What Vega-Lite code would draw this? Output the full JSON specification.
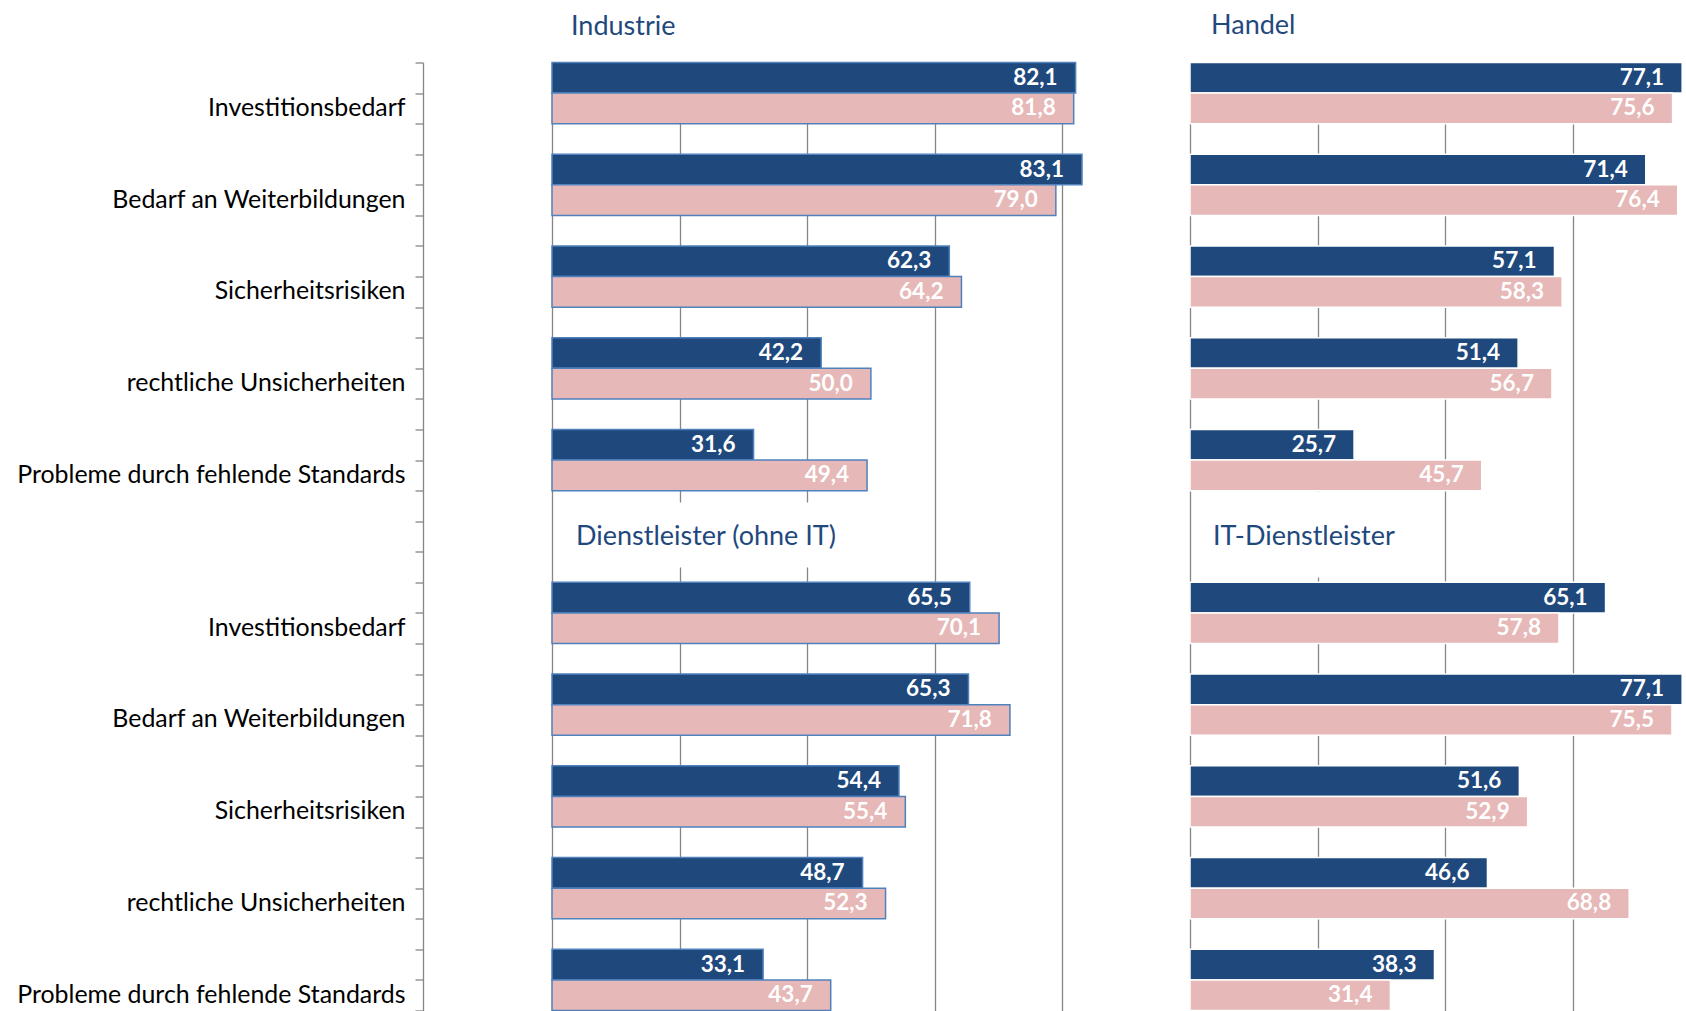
{
  "$schema": "https://vega.github.io/schema/vega-lite/v6.json",
  "background": "white",
  "padding": {"left": 16, "top": 11.5, "right": 0, "bottom": 0},
  "spacing": 63,
  "config": {
    "locale": {"number": {"decimal": ",", "thousands": ".", "grouping": [3], "currency": ["", " €"]}},
    "view": {"stroke": null},
    "font": "Lato",
    "title": {"font": "Lato", "fontSize": 27, "fontWeight": "normal", "color": "#1F497D", "anchor": "start", "frame": "group", "baseline": "alphabetic"}
  },
  "datasets": {
    "werte": [
      {"sektor": "Industrie", "kategorie": "Investitionsbedarf", "reihe": "Reihe 1", "wert": 82.1, "slot": "1|Investitionsbedarf|a"},
      {"sektor": "Industrie", "kategorie": "Investitionsbedarf", "reihe": "Reihe 2", "wert": 81.8, "slot": "1|Investitionsbedarf|b"},
      {"sektor": "Industrie", "kategorie": "Bedarf an Weiterbildungen", "reihe": "Reihe 1", "wert": 83.1, "slot": "1|Bedarf an Weiterbildungen|a"},
      {"sektor": "Industrie", "kategorie": "Bedarf an Weiterbildungen", "reihe": "Reihe 2", "wert": 79.0, "slot": "1|Bedarf an Weiterbildungen|b"},
      {"sektor": "Industrie", "kategorie": "Sicherheitsrisiken", "reihe": "Reihe 1", "wert": 62.3, "slot": "1|Sicherheitsrisiken|a"},
      {"sektor": "Industrie", "kategorie": "Sicherheitsrisiken", "reihe": "Reihe 2", "wert": 64.2, "slot": "1|Sicherheitsrisiken|b"},
      {"sektor": "Industrie", "kategorie": "rechtliche Unsicherheiten", "reihe": "Reihe 1", "wert": 42.2, "slot": "1|rechtliche Unsicherheiten|a"},
      {"sektor": "Industrie", "kategorie": "rechtliche Unsicherheiten", "reihe": "Reihe 2", "wert": 50.0, "slot": "1|rechtliche Unsicherheiten|b"},
      {"sektor": "Industrie", "kategorie": "Probleme durch fehlende Standards", "reihe": "Reihe 1", "wert": 31.6, "slot": "1|Probleme durch fehlende Standards|a"},
      {"sektor": "Industrie", "kategorie": "Probleme durch fehlende Standards", "reihe": "Reihe 2", "wert": 49.4, "slot": "1|Probleme durch fehlende Standards|b"},
      {"sektor": "Handel", "kategorie": "Investitionsbedarf", "reihe": "Reihe 1", "wert": 77.1, "slot": "1|Investitionsbedarf|a"},
      {"sektor": "Handel", "kategorie": "Investitionsbedarf", "reihe": "Reihe 2", "wert": 75.6, "slot": "1|Investitionsbedarf|b"},
      {"sektor": "Handel", "kategorie": "Bedarf an Weiterbildungen", "reihe": "Reihe 1", "wert": 71.4, "slot": "1|Bedarf an Weiterbildungen|a"},
      {"sektor": "Handel", "kategorie": "Bedarf an Weiterbildungen", "reihe": "Reihe 2", "wert": 76.4, "slot": "1|Bedarf an Weiterbildungen|b"},
      {"sektor": "Handel", "kategorie": "Sicherheitsrisiken", "reihe": "Reihe 1", "wert": 57.1, "slot": "1|Sicherheitsrisiken|a"},
      {"sektor": "Handel", "kategorie": "Sicherheitsrisiken", "reihe": "Reihe 2", "wert": 58.3, "slot": "1|Sicherheitsrisiken|b"},
      {"sektor": "Handel", "kategorie": "rechtliche Unsicherheiten", "reihe": "Reihe 1", "wert": 51.4, "slot": "1|rechtliche Unsicherheiten|a"},
      {"sektor": "Handel", "kategorie": "rechtliche Unsicherheiten", "reihe": "Reihe 2", "wert": 56.7, "slot": "1|rechtliche Unsicherheiten|b"},
      {"sektor": "Handel", "kategorie": "Probleme durch fehlende Standards", "reihe": "Reihe 1", "wert": 25.7, "slot": "1|Probleme durch fehlende Standards|a"},
      {"sektor": "Handel", "kategorie": "Probleme durch fehlende Standards", "reihe": "Reihe 2", "wert": 45.7, "slot": "1|Probleme durch fehlende Standards|b"},
      {"sektor": "Dienstleister (ohne IT)", "kategorie": "Investitionsbedarf", "reihe": "Reihe 1", "wert": 65.5, "slot": "2|Investitionsbedarf|a"},
      {"sektor": "Dienstleister (ohne IT)", "kategorie": "Investitionsbedarf", "reihe": "Reihe 2", "wert": 70.1, "slot": "2|Investitionsbedarf|b"},
      {"sektor": "Dienstleister (ohne IT)", "kategorie": "Bedarf an Weiterbildungen", "reihe": "Reihe 1", "wert": 65.3, "slot": "2|Bedarf an Weiterbildungen|a"},
      {"sektor": "Dienstleister (ohne IT)", "kategorie": "Bedarf an Weiterbildungen", "reihe": "Reihe 2", "wert": 71.8, "slot": "2|Bedarf an Weiterbildungen|b"},
      {"sektor": "Dienstleister (ohne IT)", "kategorie": "Sicherheitsrisiken", "reihe": "Reihe 1", "wert": 54.4, "slot": "2|Sicherheitsrisiken|a"},
      {"sektor": "Dienstleister (ohne IT)", "kategorie": "Sicherheitsrisiken", "reihe": "Reihe 2", "wert": 55.4, "slot": "2|Sicherheitsrisiken|b"},
      {"sektor": "Dienstleister (ohne IT)", "kategorie": "rechtliche Unsicherheiten", "reihe": "Reihe 1", "wert": 48.7, "slot": "2|rechtliche Unsicherheiten|a"},
      {"sektor": "Dienstleister (ohne IT)", "kategorie": "rechtliche Unsicherheiten", "reihe": "Reihe 2", "wert": 52.3, "slot": "2|rechtliche Unsicherheiten|b"},
      {"sektor": "Dienstleister (ohne IT)", "kategorie": "Probleme durch fehlende Standards", "reihe": "Reihe 1", "wert": 33.1, "slot": "2|Probleme durch fehlende Standards|a"},
      {"sektor": "Dienstleister (ohne IT)", "kategorie": "Probleme durch fehlende Standards", "reihe": "Reihe 2", "wert": 43.7, "slot": "2|Probleme durch fehlende Standards|b"},
      {"sektor": "IT-Dienstleister", "kategorie": "Investitionsbedarf", "reihe": "Reihe 1", "wert": 65.1, "slot": "2|Investitionsbedarf|a"},
      {"sektor": "IT-Dienstleister", "kategorie": "Investitionsbedarf", "reihe": "Reihe 2", "wert": 57.8, "slot": "2|Investitionsbedarf|b"},
      {"sektor": "IT-Dienstleister", "kategorie": "Bedarf an Weiterbildungen", "reihe": "Reihe 1", "wert": 77.1, "slot": "2|Bedarf an Weiterbildungen|a"},
      {"sektor": "IT-Dienstleister", "kategorie": "Bedarf an Weiterbildungen", "reihe": "Reihe 2", "wert": 75.5, "slot": "2|Bedarf an Weiterbildungen|b"},
      {"sektor": "IT-Dienstleister", "kategorie": "Sicherheitsrisiken", "reihe": "Reihe 1", "wert": 51.6, "slot": "2|Sicherheitsrisiken|a"},
      {"sektor": "IT-Dienstleister", "kategorie": "Sicherheitsrisiken", "reihe": "Reihe 2", "wert": 52.9, "slot": "2|Sicherheitsrisiken|b"},
      {"sektor": "IT-Dienstleister", "kategorie": "rechtliche Unsicherheiten", "reihe": "Reihe 1", "wert": 46.6, "slot": "2|rechtliche Unsicherheiten|a"},
      {"sektor": "IT-Dienstleister", "kategorie": "rechtliche Unsicherheiten", "reihe": "Reihe 2", "wert": 68.8, "slot": "2|rechtliche Unsicherheiten|b"},
      {"sektor": "IT-Dienstleister", "kategorie": "Probleme durch fehlende Standards", "reihe": "Reihe 1", "wert": 38.3, "slot": "2|Probleme durch fehlende Standards|a"},
      {"sektor": "IT-Dienstleister", "kategorie": "Probleme durch fehlende Standards", "reihe": "Reihe 2", "wert": 31.4, "slot": "2|Probleme durch fehlende Standards|b"}
    ]
  },
  "hconcat": [
    {
      "width": 574,
      "height": 948,
      "title": {"text": "Industrie", "dx": 19, "offset": 9},
      "encoding": {
        "x": {"type": "quantitative", "scale": {"domain": [0, 90], "nice": false},
          "axis": {"values": [0, 20, 40, 60, 80], "grid": true, "gridColor": "#868686", "gridWidth": 1.3, "labels": false, "ticks": false, "domain": false, "title": null}},
        "y": {"type": "nominal",
          "scale": {"paddingInner": 0, "paddingOuter": 0, "domain": ["1|Investitionsbedarf|a","1|Investitionsbedarf|b","1|Investitionsbedarf|c","1|Bedarf an Weiterbildungen|a","1|Bedarf an Weiterbildungen|b","1|Bedarf an Weiterbildungen|c","1|Sicherheitsrisiken|a","1|Sicherheitsrisiken|b","1|Sicherheitsrisiken|c","1|rechtliche Unsicherheiten|a","1|rechtliche Unsicherheiten|b","1|rechtliche Unsicherheiten|c","1|Probleme durch fehlende Standards|a","1|Probleme durch fehlende Standards|b","1|Probleme durch fehlende Standards|c","0|Abstand|g1","0|Abstand|g2","2|Investitionsbedarf|a","2|Investitionsbedarf|b","2|Investitionsbedarf|c","2|Bedarf an Weiterbildungen|a","2|Bedarf an Weiterbildungen|b","2|Bedarf an Weiterbildungen|c","2|Sicherheitsrisiken|a","2|Sicherheitsrisiken|b","2|Sicherheitsrisiken|c","2|rechtliche Unsicherheiten|a","2|rechtliche Unsicherheiten|b","2|rechtliche Unsicherheiten|c","2|Probleme durch fehlende Standards|a","2|Probleme durch fehlende Standards|b"]},
          "axis": {"orient": "left", "offset": 129, "tickBand": "extent", "tickSize": 8, "tickColor": "#868686", "tickWidth": 1.3, "domainColor": "#868686", "domainWidth": 1.3, "labelFont": "Lato", "labelFontSize": 24.9, "labelColor": "#000000", "labelPadding": 10, "labelLimit": 0, "labelOverlap": false, "grid": false, "title": null,
            "labelExpr": "split(datum.value, '|')[2] == 'b' ? split(datum.value, '|')[1] : ''"}}
      },
      "layer": [
        {
          "data": {"values": [{}]},
          "mark": {"type": "rect", "fill": "white"},
          "encoding": {
            "x": {"datum": 1.2},
            "x2": {"datum": 45},
            "y": {"datum": "1|Probleme durch fehlende Standards|c", "bandPosition": 0.39},
            "y2": {"datum": "0|Abstand|g2", "bandPosition": 0.51}
          }
        },
        {
          "data": {"values": [{"titel": "Dienstleister (ohne IT)"}]},
          "mark": {"type": "text", "align": "left", "baseline": "alphabetic", "dx": 24, "dy": 8, "fontSize": 27, "fill": "#1F497D", "font": "Lato"},
          "encoding": {
            "x": {"datum": 0},
            "y": {"datum": "0|Abstand|g1"},
            "text": {"field": "titel", "type": "nominal"}
          }
        },
        {
          "data": {"name": "werte"},
          "transform": [{"filter": {"field": "sektor", "oneOf": ["Industrie", "Dienstleister (ohne IT)"]}}],
          "mark": {"type": "bar", "stroke": "#4F81BD", "strokeWidth": 1.5},
          "encoding": {
            "x": {"field": "wert"},
            "y": {"field": "slot"},
            "color": {"field": "reihe", "type": "nominal", "scale": {"domain": ["Reihe 1", "Reihe 2"], "range": ["#1F497D", "#E6B8B7"]}, "legend": null}
          }
        },
        {
          "data": {"name": "werte"},
          "transform": [{"filter": {"field": "sektor", "oneOf": ["Industrie", "Dienstleister (ohne IT)"]}}],
          "mark": {"type": "text", "align": "right", "baseline": "middle", "dx": -18, "font": "Lato", "fontSize": 22.5, "fontWeight": "bold", "fill": "white"},
          "encoding": {
            "x": {"field": "wert"},
            "y": {"field": "slot"},
            "text": {"field": "wert", "type": "quantitative", "format": ".1f"}
          }
        }
      ]
    },
    {
      "width": 496,
      "height": 948,
      "title": {"text": "Handel", "dx": 21, "offset": 21.5},
      "encoding": {
        "x": {"type": "quantitative", "scale": {"domain": [0, 77.7], "nice": false},
          "axis": {"values": [0, 20, 40, 60], "grid": true, "gridColor": "#868686", "gridWidth": 1.3, "labels": false, "ticks": false, "domain": false, "title": null}},
        "y": {"type": "nominal", "axis": null,
          "scale": {"paddingInner": 0, "paddingOuter": 0, "domain": ["1|Investitionsbedarf|a","1|Investitionsbedarf|b","1|Investitionsbedarf|c","1|Bedarf an Weiterbildungen|a","1|Bedarf an Weiterbildungen|b","1|Bedarf an Weiterbildungen|c","1|Sicherheitsrisiken|a","1|Sicherheitsrisiken|b","1|Sicherheitsrisiken|c","1|rechtliche Unsicherheiten|a","1|rechtliche Unsicherheiten|b","1|rechtliche Unsicherheiten|c","1|Probleme durch fehlende Standards|a","1|Probleme durch fehlende Standards|b","1|Probleme durch fehlende Standards|c","0|Abstand|g1","0|Abstand|g2","2|Investitionsbedarf|a","2|Investitionsbedarf|b","2|Investitionsbedarf|c","2|Bedarf an Weiterbildungen|a","2|Bedarf an Weiterbildungen|b","2|Bedarf an Weiterbildungen|c","2|Sicherheitsrisiken|a","2|Sicherheitsrisiken|b","2|Sicherheitsrisiken|c","2|rechtliche Unsicherheiten|a","2|rechtliche Unsicherheiten|b","2|rechtliche Unsicherheiten|c","2|Probleme durch fehlende Standards|a","2|Probleme durch fehlende Standards|b"]}}
      },
      "layer": [
        {
          "data": {"values": [{}]},
          "mark": {"type": "rect", "fill": "white"},
          "encoding": {
            "x": {"datum": 1.2},
            "x2": {"datum": 32},
            "y": {"datum": "1|Probleme durch fehlende Standards|c", "bandPosition": 0.03},
            "y2": {"datum": "0|Abstand|g2", "bandPosition": 0.84}
          }
        },
        {
          "data": {"values": [{"titel": "IT-Dienstleister"}]},
          "mark": {"type": "text", "align": "left", "baseline": "alphabetic", "dx": 23, "dy": 8, "fontSize": 27, "fill": "#1F497D", "font": "Lato"},
          "encoding": {
            "x": {"datum": 0},
            "y": {"datum": "0|Abstand|g1"},
            "text": {"field": "titel", "type": "nominal"}
          }
        },
        {
          "data": {"name": "werte"},
          "transform": [{"filter": {"field": "sektor", "oneOf": ["Handel", "IT-Dienstleister"]}}],
          "mark": {"type": "bar", "stroke": "white", "strokeWidth": 1.5},
          "encoding": {
            "x": {"field": "wert"},
            "y": {"field": "slot"},
            "color": {"field": "reihe", "type": "nominal", "scale": {"domain": ["Reihe 1", "Reihe 2"], "range": ["#1F497D", "#E6B8B7"]}, "legend": null}
          }
        },
        {
          "data": {"name": "werte"},
          "transform": [{"filter": {"field": "sektor", "oneOf": ["Handel", "IT-Dienstleister"]}}],
          "mark": {"type": "text", "align": "right", "baseline": "middle", "dx": -18, "font": "Lato", "fontSize": 22.5, "fontWeight": "bold", "fill": "white"},
          "encoding": {
            "x": {"field": "wert"},
            "y": {"field": "slot"},
            "text": {"field": "wert", "type": "quantitative", "format": ".1f"}
          }
        }
      ]
    }
  ]
}
